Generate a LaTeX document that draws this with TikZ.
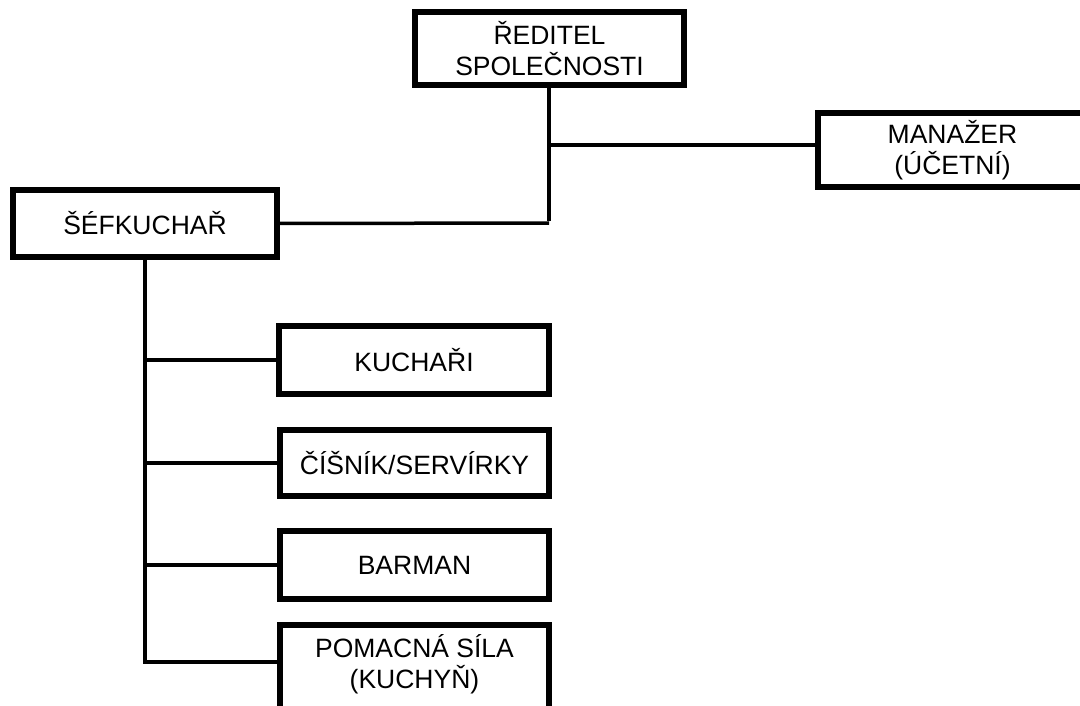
\documentclass[tikz,border=0pt]{standalone}
\usepackage{fontspec}
\setmainfont{Liberation Sans}
\begin{document}
\begin{tikzpicture}[x=1pt,y=-1pt,
  orgbox/.style={draw=black,line width=6pt,fill=white,inner sep=0pt,align=center,
    font=\fontsize{26.5}{31}\selectfont},
  orgtext/.style={inner sep=0pt,align=center,font=\fontsize{26.5}{31}\selectfont},
  conn/.style={draw=black,line width=3.5pt}]
\useasboundingbox (0,0) rectangle (1080,706);
\clip (0,0) rectangle (1080,706);
\coordinate (j) at (549,223);
\coordinate (m) at (549,145);
\node[orgbox,minimum width=269pt,minimum height=73pt] (red) at (549.5,48.5) {ŘEDITEL\\SPOLEČNOSTI};
\node[orgbox,minimum width=264pt,minimum height=67pt] (sef) at (145,223.5) {ŠÉFKUCHAŘ};
\node[orgbox,minimum width=269pt,minimum height=74pt] (man) at (952.5,150) {MANAŽER\\(ÚČETNÍ)};
\node[orgbox,minimum width=270pt,minimum height=68pt] (kuch) at (414,360) {KUCHAŘI};
\node[orgbox,minimum width=269pt,minimum height=66pt] (cis) at (414.5,463) {ČÍŠNÍK/SERVÍRKY};
\node[orgbox,minimum width=269pt,minimum height=68pt] (bar) at (414.5,565) {BARMAN};
\node[orgbox,minimum width=269pt,minimum height=110pt] (pom) at (414.5,680) {};
\node[orgtext] (pomt) at (414.5,664) {POMACNÁ SÍLA\\(KUCHYŇ)};
\draw[conn] (red.south) -- (j |- red.south) -- ([yshift=1.75pt]j);
\draw[conn] (m) -- (m -| man.west);
\draw[conn] (sef.east) -- (j);
\draw[conn] (sef.south) |- (kuch.west);
\draw[conn] (sef.south) |- (cis.west);
\draw[conn] (sef.south) |- (bar.west);
\draw[conn] (sef.south) |- (pom.west |- 0,662);
\end{tikzpicture}
\end{document}
